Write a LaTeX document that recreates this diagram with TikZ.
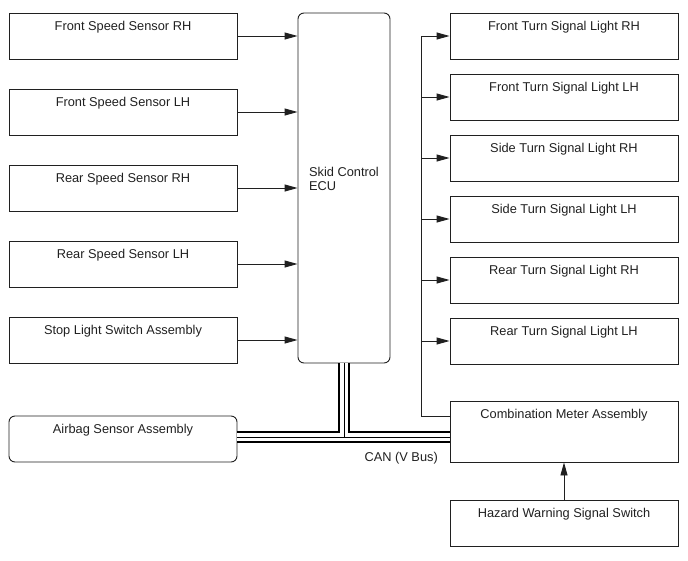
\documentclass[tikz,border=0pt]{standalone}
\usepackage{fontspec}
\setmainfont{Liberation Sans}
\usetikzlibrary{arrows.meta}
\definecolor{wire}{HTML}{202020}

\begin{document}
\begin{tikzpicture}[x=1pt, y=-1pt,
  font=\fontsize{12.8}{14.5}\selectfont, text=wire,
  box/.style={draw=wire, line width=0.9pt, minimum width=228pt, minimum height=46pt,
    inner sep=0pt, text height=9pt, text depth=21pt},
  arr/.style={draw=wire, line width=0.9pt, -{Triangle[length=13pt, width=7pt]}},
  canbus/.style={line width=1pt, preaction={draw, line width=11.5pt, black},
    preaction={draw, line width=8pt, white}}]

\useasboundingbox (0,0) rectangle (688,560);

% Sensors and switches
\node[box] (fsr) at (123, 36) {Front Speed Sensor RH};
\node[box] (fsl) at (123,112) {Front Speed Sensor LH};
\node[box] (rsr) at (123,188) {Rear Speed Sensor RH};
\node[box] (rsl) at (123,264) {Rear Speed Sensor LH};
\node[box] (stop) at (123,340) {Stop Light Switch Assembly};
\node[box, rounded corners=6pt] (airbag) at (123,439) {Airbag Sensor Assembly};

% ECU
\node[draw=wire, line width=0.9pt, rounded corners=6pt, minimum width=92pt,
  minimum height=350pt,
  label={[align=left, yshift=9pt]center:Skid Control\\ECU}] (ecu) at (344,188) {};

% Turn signal lights
\node[box] (ftr) at (564, 36) {Front Turn Signal Light RH};
\node[box] (ftl) at (564, 97) {Front Turn Signal Light LH};
\node[box] (str) at (564,158) {Side Turn Signal Light RH};
\node[box] (stl) at (564,219) {Side Turn Signal Light LH};
\node[box] (rtr) at (564,280) {Rear Turn Signal Light RH};
\node[box] (rtl) at (564,341) {Rear Turn Signal Light LH};

% Meter and hazard switch
\node[box, minimum height=61pt, text depth=36pt] (meter) at (564,431.5) {Combination Meter Assembly};
\node[box] (haz) at (564,523) {Hazard Warning Signal Switch};

% Inputs to ECU
\foreach \n in {fsr,fsl,rsr,rsl,stop}
  \draw[arr] (\n.east) -- (\n.east -| ecu.west);

% Outputs from meter
\coordinate (trunk) at (421,416);
\draw[wire, line width=0.9pt] (meter.west |- trunk) -- (trunk) -- (trunk |- ftr.west);
\foreach \n in {ftr,ftl,str,stl,rtr,rtl}
  \draw[arr] (trunk |- \n.west) -- (\n.west);

\draw[arr] (haz.north) -- (meter.south);

% CAN bus
\coordinate (bus) at (344,437);
\draw[canbus] (airbag.east |- bus) -- (meter.west |- bus) (ecu.south) -- (bus);
\node[anchor=base east, inner sep=0pt] (canlbl) at (438,461) {CAN (V Bus)};

\end{tikzpicture}
\end{document}
